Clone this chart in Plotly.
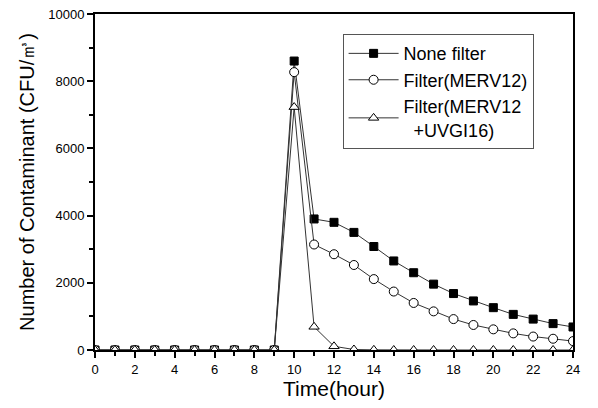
import plotly.graph_objects as go

hours = list(range(0, 25))
none_filter = [0]*10 + [8600, 3900, 3800, 3500, 3080, 2650, 2300, 1960, 1680, 1460, 1260, 1060, 920, 785, 685]
merv12 = [0]*10 + [8270, 3140, 2850, 2530, 2110, 1740, 1400, 1150, 920, 745, 615, 495, 400, 335, 265]
merv12_uvgi = [0]*10 + [7230, 690, 110, 15, 5, 0, 0, 0, 0, 0, 0, 0, 0, 0, 0]

names = ["None filter", "Filter(MERV12)", "Filter(MERV12<br>  +UVGI16)"]
symbols = ["square", "circle", "triangle-up"]
fills = ["black", "white", "white"]

fig = go.Figure()
for name, ys, sym, fc in zip(names, [none_filter, merv12, merv12_uvgi], symbols, fills):
    fig.add_trace(go.Scatter(
        x=hours, y=ys, name=name, mode="lines+markers",
        line=dict(color="#333333", width=1),
        marker=dict(symbol=sym, size=8 if sym == "square" else 9, color=fc,
                    line=dict(color="black", width=1)),
    ))

fig.update_layout(
    width=598, height=408,
    margin=dict(l=95, r=25, t=14, b=58),
    paper_bgcolor="white", plot_bgcolor="white",
    font=dict(family="Arial, Liberation Sans, sans-serif", color="black"),
    showlegend=True,
    legend=dict(x=0.518, y=0.94, xanchor="left", yanchor="top",
                bordercolor="#555555", borderwidth=1, bgcolor="white",
                font=dict(size=18), itemwidth=50, tracegroupgap=0,
                entrywidth=163, entrywidthmode="pixels"),
)
fig.update_xaxes(
    range=[0, 24], tickmode="linear", tick0=0, dtick=2, automargin=False,
    showline=True, linecolor="black", linewidth=2, mirror=True,
    ticks="outside", ticklen=6, tickcolor="black", tickwidth=1.5,
    minor=dict(dtick=1, ticks="outside", ticklen=4, tickcolor="black"),
    showgrid=False, zeroline=False, tickfont=dict(size=13),
    title=dict(text="Time(hour)", font=dict(size=21), standoff=6),
)
fig.update_yaxes(
    range=[0, 10000], tickmode="linear", tick0=0, dtick=2000, automargin=False,
    tickformat="d", ticklabeloverflow="allow",
    showline=True, linecolor="black", linewidth=2, mirror=True,
    ticks="outside", ticklen=6, tickcolor="black", tickwidth=1.5,
    minor=dict(dtick=1000, ticks="outside", ticklen=4, tickcolor="black"),
    showgrid=False, zeroline=False, tickfont=dict(size=13),
    title=dict(text="Number of Contaminant (CFU/㎥)", font=dict(size=20), standoff=8),
)
fig.write_html("out.html", config={"displayModeBar": False},
               post_script="document.body.style.margin='0';document.body.style.padding='0';")
